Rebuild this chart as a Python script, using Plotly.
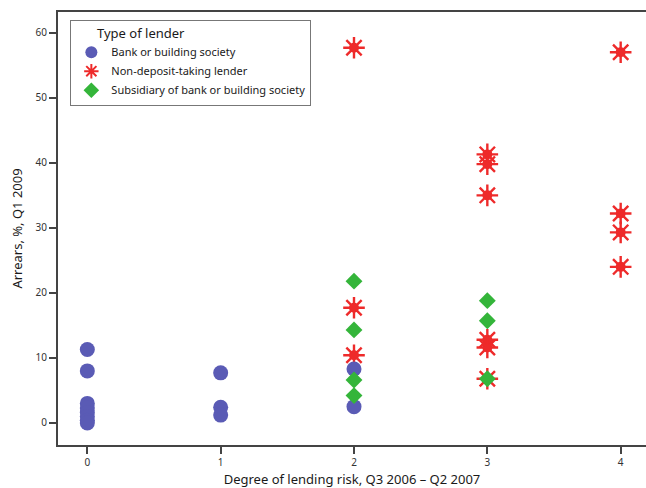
import plotly.graph_objects as go

# Data (x = degree of lending risk, y = arrears %)
bank_x = [0, 0, 0, 0, 0, 0, 0, 0, 1, 1, 1, 2, 2]
bank_y = [11.3, 8.0, 3.0, 2.3, 1.6, 1.0, 0.4, 0.0, 7.7, 2.4, 1.2, 8.3, 2.5]

nondep_x = [2, 2, 2, 3, 3, 3, 3, 3, 3, 4, 4, 4, 4]
nondep_y = [57.7, 17.7, 10.4, 41.3, 39.8, 35.0, 12.8, 11.6, 6.8, 57.0, 32.2, 29.3, 24.0]

subs_x = [2, 2, 2, 2, 3, 3, 3]
subs_y = [21.8, 14.3, 6.6, 4.2, 18.8, 15.7, 6.8]

x_ticks = [0, 1, 2, 3, 4]
y_ticks = [0, 10, 20, 30, 40, 50, 60]

BLUE = "#5a5bb5"
RED = "#ee2a2a"
GREEN = "#34b53a"
AX = "#444444"
FONT = "Noto Sans"

fig = go.Figure()

# red star body (filled centre) - no legend
fig.add_trace(go.Scatter(
    x=nondep_x, y=nondep_y, mode="markers", showlegend=False, hoverinfo="skip",
    marker=dict(symbol="circle", size=10, color=RED, line=dict(width=0)),
))
fig.add_trace(go.Scatter(
    x=nondep_x, y=nondep_y, mode="markers", name="Non-deposit-taking lender",
    legendrank=2,
    marker=dict(symbol="asterisk-open", size=18, color=RED, line=dict(width=2.4, color=RED)),
))
fig.add_trace(go.Scatter(
    x=bank_x, y=bank_y, mode="markers", name="Bank or building society",
    legendrank=1,
    marker=dict(symbol="circle", size=15, color=BLUE, line=dict(width=0)),
))
fig.add_trace(go.Scatter(
    x=subs_x, y=subs_y, mode="markers", name="Subsidiary of bank or building society",
    legendrank=3,
    marker=dict(symbol="diamond", size=13, color=GREEN, line=dict(width=0)),
))

fig.update_layout(
    width=646, height=488,
    margin=dict(l=58, r=0, t=12, b=43),
    paper_bgcolor="white", plot_bgcolor="white",
    font=dict(family=FONT, color="#1a1a1a"),
    legend=dict(
        title=dict(text="       Type of lender", font=dict(size=13, color="#1a1a1a")),
        x=0.021, y=0.982, xanchor="left", yanchor="top",
        bordercolor="#777777", borderwidth=1, bgcolor="white",
        font=dict(size=11, color="#1a1a1a"),
        itemsizing="constant", tracegroupgap=3,
    ),
    xaxis=dict(
        range=[-0.22, 4.19], tickvals=x_ticks, ticktext=[str(v) for v in x_ticks],
        showgrid=False, zeroline=False, showline=True, linecolor=AX, linewidth=2,
        mirror=True, ticks="outside", ticklen=7, tickwidth=1.5, tickcolor=AX,
        tickfont=dict(size=10, color="#333333"),
        title=dict(text="Degree of lending risk, Q3 2006 \u2013 Q2 2007",
                   font=dict(size=13, color="#1a1a1a"), standoff=8),
    ),
    yaxis=dict(
        range=[-3.4, 63.2], tickvals=y_ticks, ticktext=[str(v) for v in y_ticks],
        showgrid=False, zeroline=False, showline=True, linecolor=AX, linewidth=2,
        ticks="outside", ticklen=7, tickwidth=1.5, tickcolor=AX,
        tickfont=dict(size=10, color="#333333"),
        title=dict(text="Arrears, %, Q1 2009", font=dict(size=13, color="#1a1a1a"),
                   standoff=10),
    ),
)

fig.write_html("out.html", config={"displayModeBar": False},
               post_script="document.body.style.margin='0';document.body.style.padding='0';")
